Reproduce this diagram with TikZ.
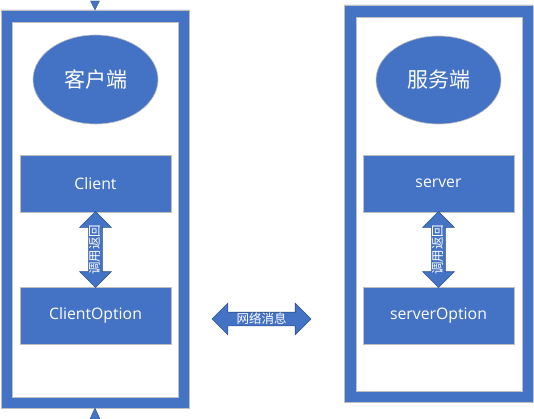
\documentclass[tikz,border=0pt]{standalone}
\usepackage{fontspec}
\setmainfont{Open Sans}
\newfontfamily\cjk{Noto Sans CJK SC}
\usetikzlibrary{shapes.geometric,shapes.arrows,calc}
\definecolor{mblue}{HTML}{4472C4}
\definecolor{medge}{HTML}{2F528F}
\definecolor{mgray}{HTML}{BFBFBF}
\tikzset{
  frameline/.style={draw=mgray, line width=0.8pt},
  oval/.style={ellipse, fill=mblue, draw=mgray, line width=0.6pt, text=white, font=\cjk\fontsize{21}{21}\selectfont, inner sep=0pt},
  box/.style={rectangle, fill=mblue, draw=mgray, line width=0.6pt, text=white, font=\fontsize{15.8}{18}\selectfont, inner sep=0pt},
  darrow/.style={double arrow, fill=mblue, draw=medge, line width=0.6pt, text=white, font=\cjk\fontsize{12.5}{13}\selectfont, inner xsep=1pt, inner ysep=0.5pt, text height=10pt, text depth=2pt, double arrow head extend=9pt},
  tri/.style={fill=mblue, draw=medge, line width=0.4pt}
}
\begin{document}
\begin{tikzpicture}[x=1pt,y=-1pt]
\useasboundingbox (0,0) rectangle (534,419);
\fill[white] (0,0) rectangle (534,419);
% left frame
\fill[mblue, even odd rule] (1,10) rectangle (189,408) (12,22) rectangle (178,397);
\draw[frameline] (1,10) rectangle (189,408);
\draw[frameline] (12,22) rectangle (178,397);
% right frame
\fill[mblue, even odd rule] (344,5) rectangle (533,402) (356,17) rectangle (522,391);
\draw[frameline] (344,5) rectangle (533,402);
\draw[frameline] (356,17) rectangle (522,391);
% triangles
\coordinate (ttop) at (95,10);
\coordinate (tbot) at (95,408);
\filldraw[tri] (ttop) -- ++(-4.5,-9) -- ++(9,0) -- cycle;
\filldraw[tri] (tbot) -- ++(-5,11) -- ++(10,0) -- cycle;
% ellipses
\node[oval, minimum width=125pt, minimum height=89pt] (kh) at (95.5,79.5) {客户端};
\node[oval, minimum width=125pt, minimum height=88pt] (fw) at (438.5,80) {服务端};
% boxes
\node[box, minimum width=151pt, minimum height=57pt] (client) at (95.5,183.5) {Client};
\node[box, minimum width=151pt, minimum height=57pt] (clientopt) at (95.5,315.5) {ClientOption};
\node[box, minimum width=151pt, minimum height=57pt] (server) at (438.5,183.5) {server};
\node[box, minimum width=151pt, minimum height=57pt] (serveropt) at (438.5,315.5) {serverOption};
% arrows
\node[darrow, rotate=90, minimum height=76pt] (a1) at ($(client.south)!0.5!(clientopt.north)$) {调用返回};
\node[darrow, rotate=90, minimum height=76pt] (a2) at ($(server.south)!0.5!(serveropt.north)$) {调用返回};
\node[darrow, minimum height=99pt] (net) at (261.5,319) {网络消息};
\end{tikzpicture}
\end{document}
